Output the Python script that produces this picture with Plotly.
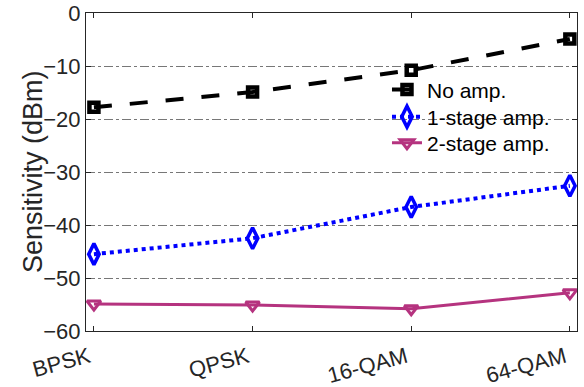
import plotly.graph_objects as go

categories = ["BPSK", "QPSK", "16-QAM", "64-QAM"]
no_amp = [-17.8, -14.9, -10.8, -4.9]
one_stage = [-45.5, -42.5, -36.6, -32.6]
two_stage = [-54.9, -55.1, -55.8, -52.8]
y_ticks = [0, -10, -20, -30, -40, -50, -60]
y_title = "Sensitivity (dBm)"

x = list(range(len(categories)))
fig = go.Figure()
fig.add_trace(go.Scatter(x=x, y=no_amp, name="No amp.", mode="lines+markers", legend="legend",
    line=dict(color="black", width=4, dash="18px,18px"),
    marker=dict(symbol="square-open", size=9, color="black", line=dict(width=4.5, color="black"))))
fig.add_trace(go.Scatter(x=x, y=one_stage, name="1-stage amp.", mode="lines+markers", legend="legend2",
    line=dict(color="#0000ff", width=4, dash="dot"),
    marker=dict(symbol="diamond-tall-open", size=15, color="#0000ff", line=dict(width=3.5, color="#0000ff"))))
fig.add_trace(go.Scatter(x=x, y=two_stage, name="2-stage amp.", mode="lines+markers", legend="legend3",
    line=dict(color="#b5337f", width=3),
    marker=dict(symbol="triangle-down-open", size=12, color="#b5337f", line=dict(width=3, color="#b5337f"))))

leg = dict(x=0.613, xanchor="left", yanchor="middle", bgcolor="rgba(0,0,0,0)",
           font=dict(size=21, color="black"), itemwidth=30)
fig.update_layout(
    width=584, height=387,
    margin=dict(l=86, r=7, t=13, b=56),
    paper_bgcolor="white", plot_bgcolor="white",
    font=dict(family="Liberation Sans, Arial, sans-serif", size=22, color="#262626"),
    showlegend=True,
    legend=dict(leg, y=0.758),
    legend2=dict(leg, y=0.673),
    legend3=dict(leg, y=0.591),
)
fig.add_annotation(text=y_title, xref="paper", yref="paper", x=0, y=0.5, xshift=-53,
                   xanchor="center", yanchor="middle", textangle=-90, showarrow=False,
                   font=dict(family="Liberation Sans, Arial, sans-serif", size=27, color="#262626"))
fig.update_xaxes(range=[-0.05, 3.045], tickmode="array", tickvals=x, ticktext=categories,
    tickangle=-15, ticks="inside", ticklen=5, tickcolor="#262626", automargin=False,
    ticklabelstandoff=4, ticklabelshift=-5,
    showline=True, linecolor="#262626", linewidth=1, mirror="ticks", showgrid=False, zeroline=False)
fig.update_yaxes(range=[-60, 0], tickmode="array", tickvals=y_ticks, ticks="inside", ticklen=5,
    tickcolor="#262626", showline=True, linecolor="#262626", linewidth=1, mirror="ticks",
    showgrid=True, gridcolor="#777777", griddash="dashdot", gridwidth=1, zeroline=False,
    automargin=False)
fig.write_html("out.html", config={"displayModeBar": False},
               post_script="document.body.style.margin='0';document.body.style.overflow='hidden';")
